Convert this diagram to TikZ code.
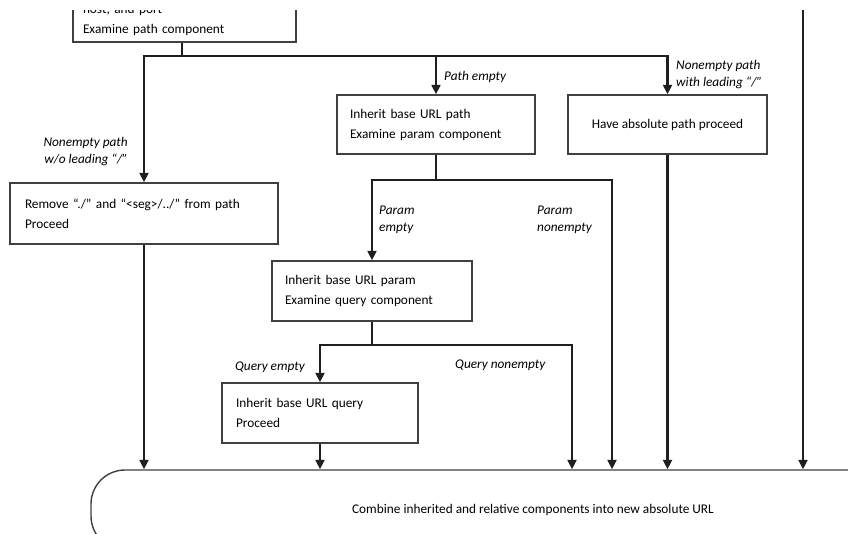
\documentclass[tikz,border=0pt]{standalone}
\usepackage{fontspec}
\setmainfont{Carlito}
\usetikzlibrary{arrows.meta, positioning, calc}

\begin{document}
\begin{tikzpicture}[
        x=1pt, y=-1pt,
        font=\fontsize{13.3}{20}\selectfont,
        box/.style={draw=black!75, line width=1.4pt, inner sep=0pt, minimum height=60},
        branchlbl/.style={font=\fontsize{13.3}{17}\selectfont\itshape, inner sep=0pt, align=left},
        conn/.style={line width=2.2pt, draw=black!88},
        arrow/.style={conn, -{Triangle[length=9.5pt, width=9pt]}}
        ]
        \useasboundingbox (0,0) rectangle (848,533);
        \clip (0,10) rectangle (848,533);

        \node[box, minimum width=223, minimum height=44, text width=203, align=left] (host) at (184.5,20) {host, and port\\Examine path component};
        \node[box, minimum width=198, minimum height=59, text width=172, align=left] (pathbox) at (436,124.5) {Inherit base URL path\\Examine param component};
        \node[box, minimum width=199, minimum height=59, align=center] (absbox) at (667.5,124.5) {Have absolute path proceed};
        \node[box, minimum width=268, minimum height=61, text width=238, align=left] (remove) at (144,213.5) {Remove “./” and “<seg>/../” from path\\Proceed};
        \node[box, minimum width=200, text width=174, align=left] (parambox) at (372,291) {Inherit base URL param\\Examine query component};
        \node[box, minimum width=196, text width=168, align=left] (querybox) at (320,413) {Inherit base URL query\\Proceed};
        \node[box, rounded corners=34, minimum width=884, minimum height=80] (combine) at (533,510) {Combine inherited and relative components into new absolute URL};

        \node[branchlbl, anchor=west] (lblpath) at (444,77) {Path empty};
        \node[branchlbl, anchor=west] (lblabs) at (676,75) {Nonempty path\\with leading “/”};
        \node[branchlbl, anchor=east, align=right] (lblrel) at (128,152) {Nonempty path\\w/o leading “/”};
        \node[branchlbl, anchor=west] (lblpe) at (379,220) {Param\\empty};
        \node[branchlbl, anchor=west] (lblpn) at (537,220) {Param\\nonempty};
        \node[branchlbl, anchor=east] (lblqe) at (305,367) {Query empty};
        \node[branchlbl, anchor=west] (lblqn) at (455,365) {Query nonempty};

        \coordinate (split1) at (182,56);
        \coordinate (split2) at (436,180);
        \coordinate (pnon) at (612,180);
        \coordinate (split3) at (372,345);
        \coordinate (qnon) at (572,345);
        \coordinate (incoming) at (803,-10);

        \draw[conn] (host.south -| split1) -- (split1);
        \draw[arrow] (split1) -| (remove.north);
        \draw[arrow] (split1) -| (pathbox.north);
        \draw[arrow] (split1) -| (absbox.north);
        \draw[conn] (pathbox.south) -- (split2);
        \draw[arrow] (split2) -| (parambox.north);
        \draw[arrow] (split2) -- (pnon) -- (pnon |- combine.north);
        \draw[conn] (parambox.south) -- (split3);
        \draw[arrow] (split3) -| (querybox.north);
        \draw[arrow] (split3) -- (qnon) -- (qnon |- combine.north);
        \draw[arrow] (remove.south) -- (remove.south |- combine.north);
        \draw[arrow] (querybox.south) -- (querybox.south |- combine.north);
        \draw[arrow] (absbox.south) -- (absbox.south |- combine.north);
        \draw[arrow] (incoming) -- (incoming |- combine.north);
    \end{tikzpicture}
\end{document}
